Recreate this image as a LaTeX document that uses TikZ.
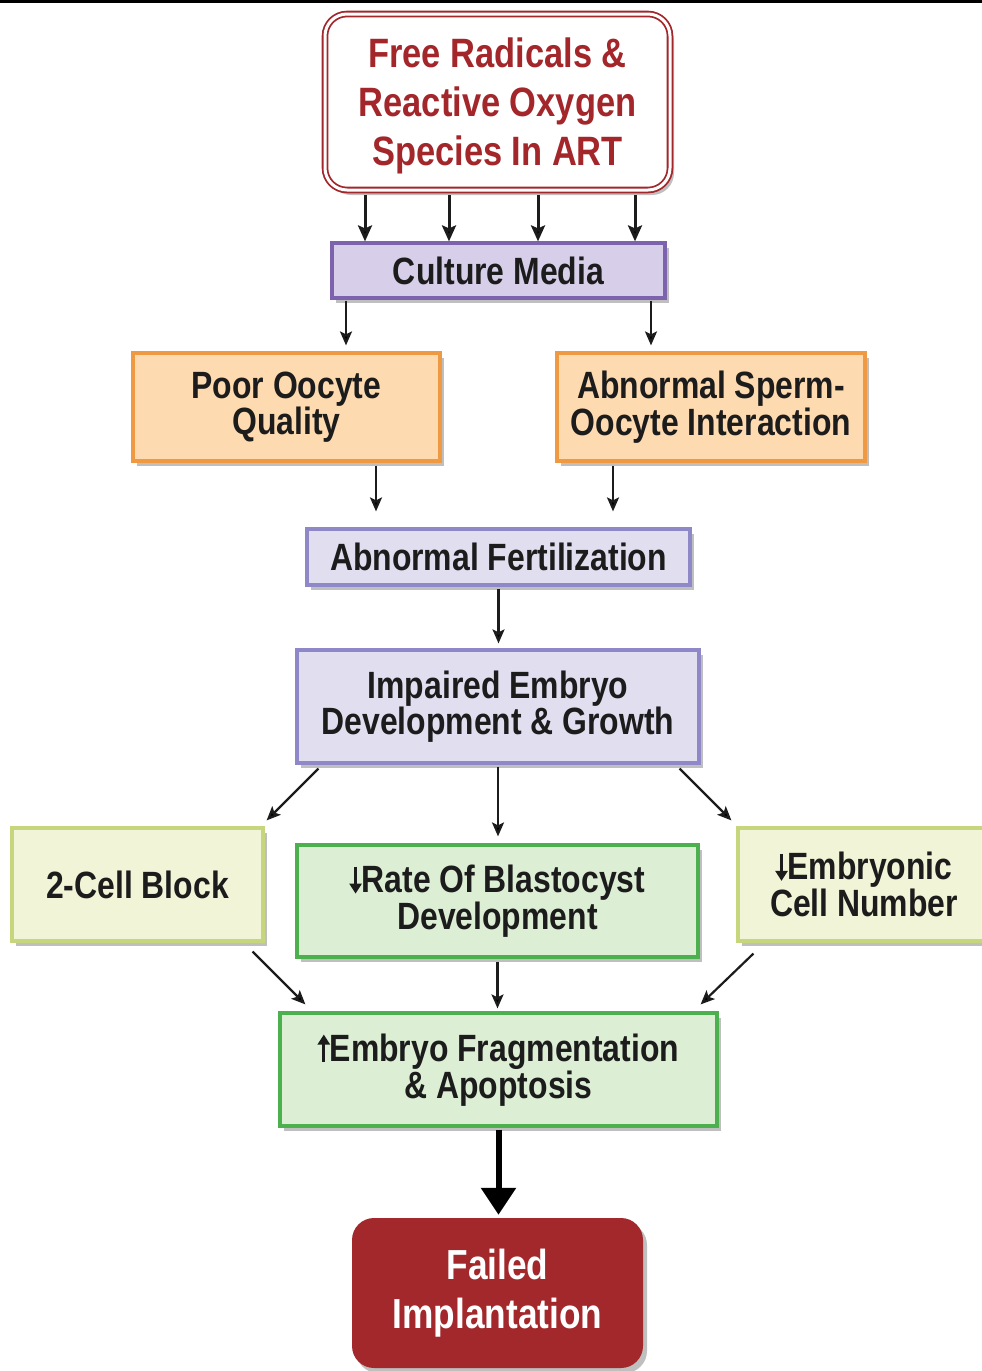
\documentclass[tikz,border=0pt]{standalone}
\usepackage{fontspec}
\newfontfamily\cond{Liberation Sans}[FakeStretch=0.84]
\usetikzlibrary{calc,arrows.meta,shadows}
\definecolor{topred}{HTML}{A3262A}
\definecolor{txt}{HTML}{1C1C1C}
\definecolor{purB}{HTML}{7D62AE}
\definecolor{purF}{HTML}{D7CEEA}
\definecolor{lavB}{HTML}{8F88C8}
\definecolor{lavF}{HTML}{E1DEF0}
\definecolor{orB}{HTML}{EF9A43}
\definecolor{orF}{HTML}{FDDAB0}
\definecolor{ylB}{HTML}{C6D67C}
\definecolor{ylF}{HTML}{F1F4D6}
\definecolor{grB}{HTML}{4DB04F}
\definecolor{grF}{HTML}{DCEED4}
\definecolor{failF}{HTML}{A2282B}
\newcommand{\myDown}{\tikz[baseline=0pt]\draw[txt, line width=3pt, -{Triangle[length=10pt,width=12pt]}] (0pt,26pt) -- (0pt,-1pt);}
\newcommand{\myUp}{\tikz[baseline=0pt]\draw[txt, line width=3pt, -{Triangle[length=10pt,width=12pt]}] (0pt,0pt) -- (0pt,27pt);}
\begin{document}
\begin{tikzpicture}[x=1pt,y=-1pt,
  shade/.style={drop shadow={shadow xshift=4pt, shadow yshift=-5pt, fill=black, opacity=0.25}},
  box/.style={rectangle, line width=3.2pt, text=txt, align=center, inner sep=0pt,
    font=\cond\bfseries\fontsize{38}{35}\selectfont, shade},
  purbox/.style={box, draw=purB, fill=purF},
  lavbox/.style={box, draw=lavB, fill=lavF},
  orbox/.style={box, draw=orB, fill=orF},
  ylbox/.style={box, draw=ylB, fill=ylF},
  grbox/.style={box, draw=grB, fill=grF},
  arr/.style={draw=txt, line width=2.2pt, -{Stealth[length=14pt,width=12pt,inset=3pt]}},
  toparr/.style={draw=txt, line width=3pt, -{Stealth[length=16pt,width=14pt,inset=3pt]}},
  bigarr/.style={draw=black, line width=6pt, -{Triangle[length=27pt,width=34pt]}}
]
\useasboundingbox (0,0) rectangle (982,1371);
\fill[black] (0,0) rectangle (982,3);

\node[rectangle, rounded corners=22pt, draw=topred, double=white, double distance=3pt,
  line width=1.8pt, fill=white, minimum width=345pt, minimum height=176pt, inner sep=0pt, shade]
  (top) at (497.5,102) {};
\node[align=center, text=topred, inner sep=0pt, font=\cond\bfseries\fontsize{41}{49}\selectfont]
  (toptext) at (497.5,106) {Free Radicals \&\\Reactive Oxygen\\Species In ART};

\node[purbox, minimum width=333pt, minimum height=55pt] (culture) at (498.5,270.5) {Culture Media};
\node[orbox, minimum width=307pt, minimum height=108pt] (poor) at (286.5,407) {Poor Oocyte\\Quality};
\node[orbox, minimum width=308pt, minimum height=108pt] (sperm) at (711,407) {Abnormal Sperm-\\Oocyte Interaction};
\node[lavbox, minimum width=383pt, minimum height=56pt] (fert) at (498.5,557) {Abnormal Fertilization};
\node[lavbox, minimum width=402pt, minimum height=113pt] (impaired) at (498,706.5) {Impaired Embryo\\Development \& Growth};
\node[ylbox, minimum width=251pt, minimum height=113pt] (cell2) at (137.5,884.5) {2-Cell Block};
\node[grbox, minimum width=401pt, minimum height=112pt] (blast) at (497.5,901) {\myDown Rate Of Blastocyst\\Development};
\node[ylbox, minimum width=252pt, minimum height=113pt] (embryonic) at (864,884.5) {\myDown Embryonic\\Cell Number};
\node[grbox, minimum width=437pt, minimum height=113pt] (frag) at (498.5,1069.5) {\myUp Embryo Fragmentation\\\& Apoptosis};
\node[rectangle, rounded corners=22pt, fill=failF, minimum width=291pt, minimum height=150pt,
  inner sep=0pt, align=center, text=white, font=\cond\bfseries\fontsize{42}{49}\selectfont, shade]
  (failed) at (497.5,1293) {Failed\\Implantation};

% top to culture media
\foreach \dx in {-132.5,-48.5,40.5,137.5}{
  \draw[toparr] ([xshift=\dx pt, yshift=-4pt]top.south) -- ([xshift=\dx pt]top.south |- culture.north);
}
% culture to orange boxes
\draw[arr] ([xshift=-152.5pt,yshift=-1pt]culture.south) -- ([xshift=-152.5pt,yshift=6pt]culture.south |- poor.north);
\draw[arr] ([xshift=152.5pt,yshift=-1pt]culture.south) -- ([xshift=152.5pt,yshift=6pt]culture.south |- sperm.north);
% orange to fertilization
\draw[arr] ([xshift=89.5pt,yshift=-3pt]poor.south) -- ([xshift=89.5pt,yshift=16pt]poor.south |- fert.north);
\draw[arr] ([xshift=-98pt,yshift=-3pt]sperm.south) -- ([xshift=-98pt,yshift=16pt]sperm.south |- fert.north);
% fertilization to impaired
\draw[arr] ([yshift=-2pt]fert.south) -- ([yshift=5pt]fert.south |- impaired.north);
% impaired to row
\draw[arr] ($(impaired.south west)+(23,4)$) -- ($(cell2.north east)+(2,-6)$);
\draw[arr] ([yshift=-2pt]impaired.south) -- ([yshift=7pt]impaired.south |- blast.north);
\draw[arr] ($(impaired.south east)+(-21,4)$) -- ($(embryonic.north west)+(-5,-6)$);
% row to fragmentation
\draw[arr] ($(cell2.south east)+(-12,9)$) -- ($(frag.north west)+(27,-7)$);
\draw[arr] ([yshift=-3pt]blast.south) -- ([yshift=3pt]blast.south |- frag.north);
\draw[arr] ($(embryonic.south west)+(17,11)$) -- ($(frag.north east)+(-18,-7)$);
% thick arrow
\draw[bigarr] ([yshift=-2pt]frag.south) -- ([yshift=3pt]frag.south |- failed.north);
\end{tikzpicture}
\end{document}
